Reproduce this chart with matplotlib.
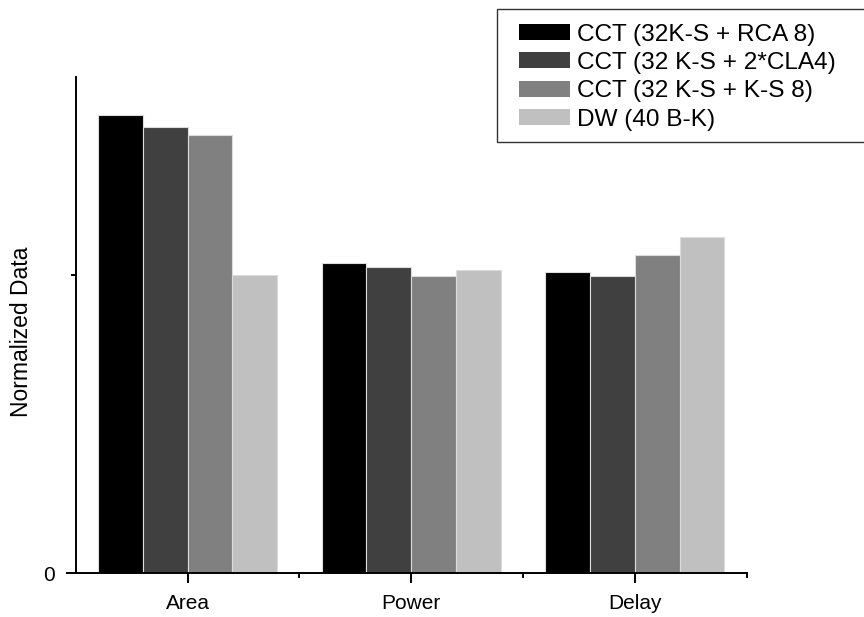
import matplotlib
matplotlib.use("Agg")
import matplotlib.pyplot as plt
from matplotlib.patches import Rectangle
import numpy as np

plt.rcParams['font.family'] = ['Liberation Sans', 'DejaVu Sans']

categories = ["Area", "Power", "Delay"]
series_names = [
    "CCT (32K-S + RCA 8)",
    "CCT (32 K-S + 2*CLA4)",
    "CCT (32 K-S + K-S 8)",
    "DW (40 B-K)",
]
cct_rca8 = [1.538, 1.040, 1.010]
cct_cla4 = [1.498, 1.029, 0.999]
cct_ks8 = [1.470, 0.999, 1.068]
dw_bk = [1.001, 1.019, 1.128]
series_values = [cct_rca8, cct_cla4, cct_ks8, dw_bk]
colors = ["#000000", "#404040", "#808080", "#c0c0c0"]

W, H = 864, 617
fig = plt.figure(figsize=(W / 100, H / 100), dpi=100)
ax = fig.add_axes([0.0876, 0.0708, 0.7766, 0.8049])

x = np.arange(1, len(categories) + 1)
width = 0.2
handles = []
for i, (vals, col, name) in enumerate(zip(series_values, colors, series_names)):
    offset = (i - 1.5) * width
    b = ax.bar(x + offset, vals, width, color=col, edgecolor="#dcdcdc",
               linewidth=0.8, label=name)
    handles.append(b)

ax.set_xlim(0.5, 3.5)
ax.set_ylim(0, 1.666)
ax.set_xticks(x)
ax.set_xticklabels(categories, fontsize=15)
ax.set_xticks([1.5, 2.5, 3.5], minor=True)
ax.set_yticks([0])
ax.set_yticklabels(["0"], fontsize=15)
ax.set_yticks([1.0], minor=True)
ax.set_ylabel("Normalized Data", fontsize=16.5)
ax.yaxis.set_label_coords(-0.064, 0.486)

for s in ["top", "right"]:
    ax.spines[s].set_visible(False)
for s in ["left", "bottom"]:
    ax.spines[s].set_linewidth(1.4)
ax.tick_params(which="major", length=7, width=1.4, direction="out", pad=8)
ax.tick_params(which="minor", length=3.6, width=1.4, direction="out")

# legend box drawn as a figure-level frame, legend entries placed inside it
frame = Rectangle((497 / W, 1 - 142 / H), (W - 497 + 2) / W, 133 / H,
                  transform=fig.transFigure, facecolor="white",
                  edgecolor="#333333", linewidth=1.0, zorder=5)
fig.add_artist(frame)

leg = fig.legend(handles=handles, labels=series_names,
                 loc="upper left", bbox_to_anchor=(519 / W, 1 - 23.5 / H),
                 fontsize=17.6, frameon=False,
                 handlelength=2.1, handleheight=0.62,
                 handletextpad=0.29, labelspacing=0.26, borderpad=0.0,
                 borderaxespad=0.0)
leg.set_zorder(6)
for p in leg.get_patches():
    p.set_edgecolor("none")

fig.savefig("out.png", dpi=100)
